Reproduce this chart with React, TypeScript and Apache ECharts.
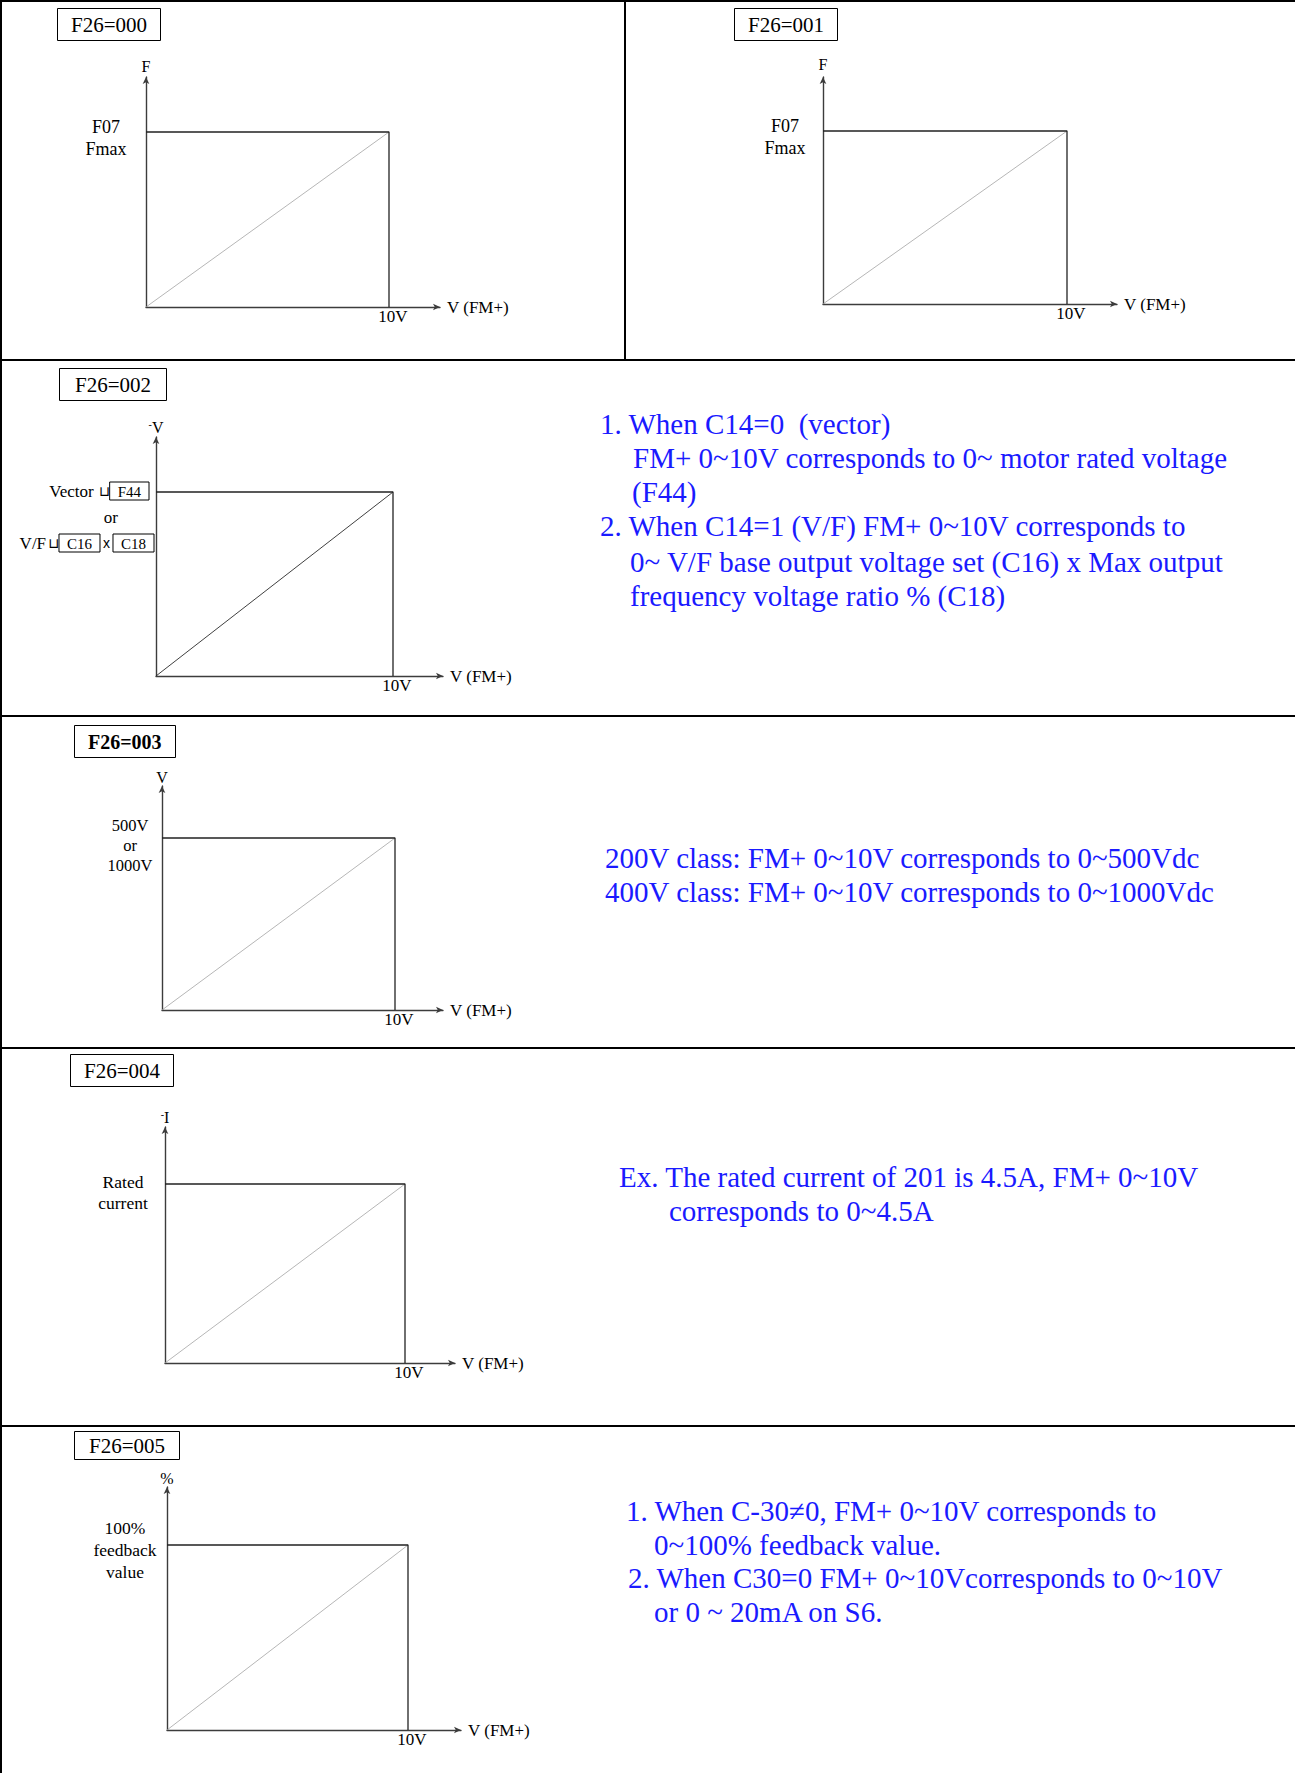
import React, { useEffect, useRef } from "react";
import * as echarts from "echarts";

// ---------- content / data ----------
const panelCodes = ["F26=000", "F26=001", "F26=002", "F26=003", "F26=004", "F26=005"];
// FM+ analog output: input range (V) and output as % of full scale
const inputVolts = [0, 10];
const outputPct = [0, 100];
// limit frame: full-scale level then the 10V drop
const limitVolts = [0, 10, 10];
const limitPct = [100, 100, 0];
const xTickValues = [10];
const yTickValues = [100];
const xUnit = "V";
const xAxisName = "V (FM+)";
const yAxisNames = ["F", "F", "{d|-}V", "V", "{d|-}I", "%"];
const yLimitLabels = [
  "{a|F07}\n{a|Fmax}",
  "{a|F07}\n{a|Fmax}",
  "{t|Vector}{u1|⊔}{b|F44}{s| }\n{or|or}\n{t|V/F}{u2|⊔}{b|C16}{x|x}{b|C18}",
  "{a|500V}\n{a|or}\n{a|1000V}",
  "{a|Rated}\n{a|current}",
  "{a|100%}\n{a|feedback}\n{a|value}",
];
const notesP3 = [
  "1. When C14=0  (vector)",
  "FM+ 0~10V corresponds to 0~ motor rated voltage",
  "(F44)",
  "2. When C14=1 (V/F) FM+ 0~10V corresponds to",
  "0~ V/F base output voltage set (C16) x Max output",
  "frequency voltage ratio % (C18)",
];
const notesP4 = [
  "200V class: FM+ 0~10V corresponds to 0~500Vdc",
  "400V class: FM+ 0~10V corresponds to 0~1000Vdc",
];
const notesP5 = [
  "Ex. The rated current of 201 is 4.5A, FM+ 0~10V",
  "corresponds to 0~4.5A",
];
const notesP6 = [
  "1. When C-30≠0, FM+ 0~10V corresponds to",
  "0~100% feedback value.",
  "2. When C30=0 FM+ 0~10Vcorresponds to 0~10V",
  "or 0 ~ 20mA on S6.",
];

// ---------- layout ----------
const SERIF = "Liberation Serif, Times New Roman, serif";
const BLUE = "#1a1aff";
const AXIS = "#3c3c3c";

// ox,oy origin; rx x of 10V; ty y of full scale; ax,ay arrow tips
const layout = [
  { ox: 146, oy: 307, rx: 389, ty: 132, ax: 440, ay: 77, lm: 40, shift: 11, lh: 22, fs: 18, ng: 11, box: [57, 8, 14, 6], dark: false },
  { ox: 823, oy: 304, rx: 1067, ty: 131, ax: 1117, ay: 77, lm: 38, shift: 11, lh: 22, fs: 18, ng: 13, box: [734, 8, 14, 6], dark: false },
  { ox: 156, oy: 676, rx: 393, ty: 492, ax: 443, ay: 437, lm: 2, shift: 50, lh: 26, fs: 17, ng: 10, box: [59, 368, 16, 6], dark: true },
  { ox: 162, oy: 1010, rx: 395, ty: 838, ax: 443, ay: 786, lm: 32, shift: 14, lh: 20, fs: 16.5, ng: 9, box: [74, 725, 14, 6], dark: false },
  { ox: 165, oy: 1363, rx: 405, ty: 1184, ax: 455, ay: 1127, lm: 42, shift: 16, lh: 21, fs: 17.5, ng: 10, box: [70, 1054, 14, 6], dark: false },
  { ox: 167, oy: 1730, rx: 408, ty: 1545, ax: 461, ay: 1487, lm: 42, shift: 9, lh: 22, fs: 17.5, ng: 9, box: [74, 1431, 15, 4], dark: false },
];

const notePos = [
  { lines: notesP3, pos: [[600, 424], [633, 458], [632, 492], [600, 526], [630, 562], [630, 596]] },
  { lines: notesP4, pos: [[605, 858], [605, 892]] },
  { lines: notesP5, pos: [[619, 1177], [669, 1211]] },
  { lines: notesP6, pos: [[626, 1511], [654, 1545], [628, 1578], [654, 1612]] },
];

const tableLines = [
  [0, 1, 1295, 1],
  [1, 0, 1, 1773],
  [625, 0, 625, 360],
  [0, 360, 1295, 360],
  [0, 716, 1295, 716],
  [0, 1048, 1295, 1048],
  [0, 1426, 1295, 1426],
];

function buildOption() {
  const diagonal = inputVolts.map((v, i) => [v, outputPct[i]]);
  const limit = limitVolts.map((v, i) => [v, limitPct[i]]);

  const grid = layout.map((p) => ({
    left: p.ox,
    top: p.ay,
    width: p.ax - p.ox,
    height: p.oy - p.ay,
    containLabel: false,
    outerBoundsMode: "none",
  }));

  const xAxis = layout.map((p, i) => ({
    type: "value",
    gridIndex: i,
    min: 0,
    max: (inputVolts[1] * (p.ax - p.ox)) / (p.rx - p.ox),
    name: xAxisName,
    nameLocation: "end",
    nameGap: 7,
    nameMoveOverlap: false,
    nameTextStyle: { fontFamily: SERIF, fontSize: 17, color: "#000" },
    axisLine: {
      show: true,
      onZero: false,
      symbol: ["none", "arrow"],
      symbolSize: [5, 7],
      lineStyle: { color: AXIS, width: 1.4 },
    },
    axisTick: { show: false },
    splitLine: { show: false },
    axisLabel: {
      customValues: xTickValues,
      formatter: (v: number) => `${v}${xUnit}`,
      fontFamily: SERIF,
      fontSize: 17,
      color: "#000",
      margin: 1,
      padding: [0, 0, 0, 8],
    },
  }));

  const yAxis = layout.map((p, i) => {
    const rich = {
      a: { fontFamily: SERIF, fontSize: p.fs, color: "#000", lineHeight: p.lh },
      t: { fontFamily: SERIF, fontSize: 17, color: "#000", lineHeight: 26 },
      u1: { fontFamily: "DejaVu Sans", fontSize: 14, color: "#000", lineHeight: 26, padding: [0, 0, 0, 5] },
      u2: { fontFamily: "DejaVu Sans", fontSize: 14, color: "#000", lineHeight: 26, padding: [0, 0, 0, 2] },
      b: {
        fontFamily: SERIF,
        fontSize: 15,
        color: "#000",
        lineHeight: 26,
        borderColor: "#000",
        borderWidth: 1,
        padding: [2, 8, 1, 8],
      },
      s: { fontSize: 10, width: 5, lineHeight: 26 },
      x: { fontFamily: "Liberation Sans", fontSize: 14, color: "#000", lineHeight: 26, padding: [0, 3, 0, 3] },
      or: { fontFamily: SERIF, fontSize: 17, color: "#000", lineHeight: 26, padding: [0, 36, 0, 0] },
    };
    return {
      type: "value",
      gridIndex: i,
      min: 0,
      max: (outputPct[1] * (p.oy - p.ay)) / (p.oy - p.ty),
      name: yAxisNames[i],
      nameLocation: "end",
      nameGap: p.ng,
      nameMoveOverlap: false,
      nameTextStyle: {
        fontFamily: SERIF,
        fontSize: 16,
        color: "#000",
        verticalAlign: "middle",
        rich: { d: { fontFamily: SERIF, fontSize: 10, color: "#000", verticalAlign: "top" } },
      },
      axisLine: {
        show: true,
        onZero: false,
        symbol: ["none", "arrow"],
        symbolSize: [5, 7],
        lineStyle: { color: AXIS, width: 1.4 },
      },
      axisTick: { show: false },
      splitLine: { show: false },
      axisLabel: {
        customValues: yTickValues,
        formatter: () => yLimitLabels[i],
        fontFamily: SERIF,
        fontSize: p.fs,
        lineHeight: p.lh,
        color: "#000",
        align: i === 2 ? "right" : "center",
        verticalAlign: "middle",
        margin: p.lm,
        padding: [p.shift, 0, 0, 0],
        rich,
      },
    };
  });

  const series: any[] = [];
  layout.forEach((p, i) => {
    series.push({
      type: "line",
      xAxisIndex: i,
      yAxisIndex: i,
      data: diagonal,
      symbol: "none",
      silent: true,
      lineStyle: { color: p.dark ? "#2a2a2a" : "#a3a3a3", width: p.dark ? 0.9 : 0.8 },
    });
    series.push({
      type: "line",
      xAxisIndex: i,
      yAxisIndex: i,
      data: limit,
      symbol: "none",
      silent: true,
      lineStyle: { color: "#222", width: 1.3 },
    });
  });

  const title = layout.map((p, i) => ({
    text: panelCodes[i],
    left: p.box[0],
    top: p.box[1],
    padding: [p.box[3], p.box[2], p.box[3], p.box[2]],
    borderColor: "#000",
    borderWidth: 1,
    textStyle: {
      fontFamily: SERIF,
      fontSize: i === 3 ? 20 : 21,
      fontWeight: i === 3 ? "bold" : "normal",
      color: "#000",
      lineHeight: 21,
    },
  }));

  const graphic: any[] = [];
  tableLines.forEach(([x1, y1, x2, y2]) => {
    graphic.push({
      type: "line",
      shape: { x1, y1, x2, y2 },
      style: { stroke: "#000", lineWidth: 2 },
      silent: true,
    });
  });
  notePos.forEach((blk) => {
    blk.lines.forEach((t, k) => {
      graphic.push({
        type: "text",
        x: blk.pos[k][0],
        y: blk.pos[k][1],
        silent: true,
        style: {
          text: t,
          fill: BLUE,
          fontFamily: SERIF,
          fontSize: 29,
          align: "left",
          verticalAlign: "middle",
        },
      });
    });
  });

  return {
    animation: false,
    backgroundColor: "#fff",
    title,
    grid,
    xAxis,
    yAxis,
    series,
    graphic,
  };
}

export default function App() {
  const ref = useRef<HTMLDivElement>(null);
  useEffect(() => {
    if (!ref.current) return;
    const chart = echarts.init(ref.current, undefined, { renderer: "svg" });
    chart.setOption(buildOption() as any);
    return () => chart.dispose();
  }, []);
  return (
    <div
      ref={ref}
      style={{ position: "absolute", left: 0, top: 0, width: 1295, height: 1773, background: "#fff" }}
    />
  );
}
